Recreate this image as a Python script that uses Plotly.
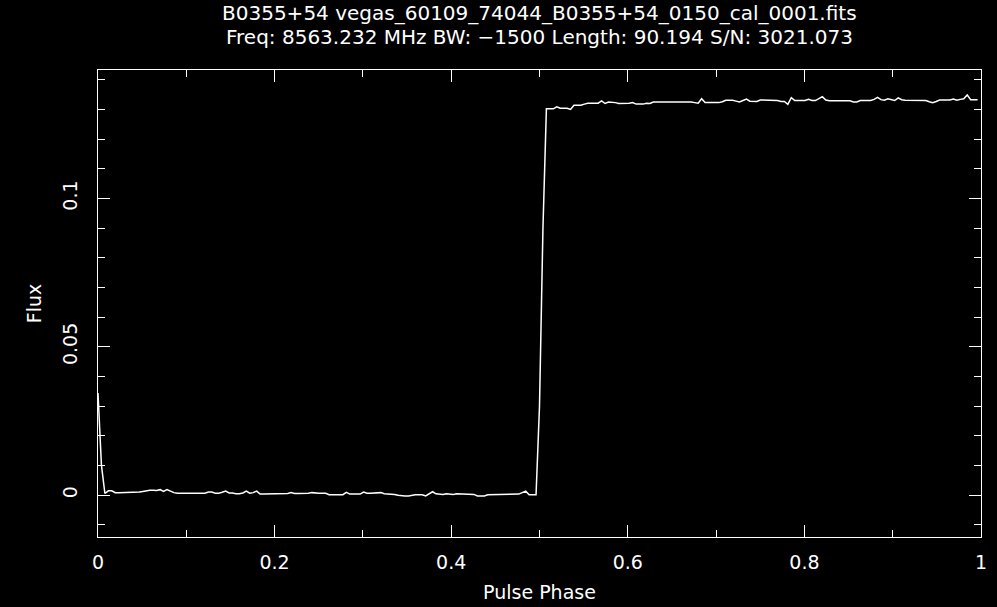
import numpy as np
import plotly.graph_objects as go

# ---- data ----
n_bins = 256
phase = np.arange(n_bins) / n_bins  # pulse phase of each bin

# flux values in units of 1e-4
flux_1e4 = [
    344, 100, 5, 14, 14, 8, 8, 8, 8, 8, 8, 10, 10, 12, 15, 16,
    16, 15, 18, 12, 18, 12, 8, 6, 6, 6, 6, 6, 4, 6, 6, 6,
    10, 10, 6, 6, 9, 13, 7, 7, 4, 4, 7, 13, 6, 8, 13, 3,
    3, 3, 3, 3, 3, 4, 5, 5, 8, 5, 5, 5, 5, 6, 8, 6,
    6, 6, 6, 1, 1, 1, 1, 1, 9, 3, 3, 3, 3, 10, 6, 6,
    6, 8, 8, 4, 4, 4, 2, -1, -3, -3, -3, 0, 1, 1, 1, -3,
    3, 11, 4, 2, 2, 4, 2, 2, 4, 4, 2, 2, 2, 2, -3, -3,
    -3, 1, 1, 1, 1, 3, 3, 3, 3, 3, 3, 8, 13, 1, 1, 1,
    300, 900, 1302, 1302, 1302, 1309, 1304, 1304, 1304, 1300, 1314, 1314, 1314, 1318, 1321, 1321,
    1321, 1321, 1329, 1320, 1325, 1325, 1323, 1320, 1320, 1320, 1321, 1323, 1318, 1318, 1318, 1321,
    1320, 1325, 1325, 1327, 1327, 1327, 1327, 1327, 1327, 1327, 1325, 1325, 1325, 1323, 1321, 1336,
    1323, 1323, 1323, 1323, 1323, 1326, 1331, 1331, 1331, 1328, 1325, 1330, 1335, 1328, 1327, 1327,
    1332, 1332, 1330, 1330, 1330, 1330, 1327, 1327, 1317, 1340, 1330, 1330, 1330, 1330, 1334, 1330,
    1330, 1336, 1343, 1332, 1329, 1329, 1330, 1329, 1329, 1328, 1329, 1325, 1325, 1330, 1330, 1330,
    1330, 1334, 1341, 1333, 1331, 1336, 1333, 1330, 1339, 1333, 1331, 1331, 1330, 1330, 1330, 1330,
    1330, 1326, 1323, 1327, 1332, 1332, 1332, 1332, 1335, 1331, 1334, 1336, 1349, 1333, 1333, 1333,
]
flux = np.array(flux_1e4) * 1e-4

x_tickvals = [0, 0.2, 0.4, 0.6, 0.8, 1.0]
x_ticktext = ["0", "0.2", "0.4", "0.6", "0.8", "1"]
y_tickvals = [0, 0.05, 0.1]
y_ticktext = ["0", "0.05", "0.1"]

title_line1 = "B0355+54 vegas_60109_74044_B0355+54_0150_cal_0001.fits"
title_line2 = "Freq: 8563.232 MHz BW: \u22121500 Length: 90.194 S/N: 3021.073"

FONT = "DejaVu Sans"
FS = 19

fig = go.Figure()
fig.add_trace(go.Scatter(
    x=phase, y=flux, mode="lines",
    line=dict(color="#ffffff", width=1.5),
    showlegend=False, hoverinfo="skip",
))

plot_h = 607 - 70 - 70

def ypix(yc):
    return 1 + (70 - yc) / plot_h

fig.add_annotation(text=title_line1, xref="paper", yref="paper", x=0.5, y=ypix(13),
                   xanchor="center", yanchor="middle", showarrow=False,
                   font=dict(family=FONT, size=20, color="white"))
fig.add_annotation(text=title_line2, xref="paper", yref="paper", x=0.5, y=ypix(37),
                   xanchor="center", yanchor="middle", showarrow=False,
                   font=dict(family=FONT, size=20, color="white"))

axis_common = dict(
    showline=True, linecolor="white", linewidth=1.2, mirror="ticks",
    ticks="inside", tickcolor="white", tickwidth=1.2, ticklen=12,
    showgrid=False, zeroline=False,
    tickfont=dict(family=FONT, size=FS, color="white"),
)

fig.update_xaxes(
    range=[0, 1], tickvals=x_tickvals, ticktext=x_ticktext,
    minor=dict(tickvals=[0.1, 0.3, 0.5, 0.7, 0.9], ticks="inside", ticklen=7,
               tickcolor="white", tickwidth=1.2),
    title=dict(text="Pulse Phase", font=dict(family=FONT, size=FS, color="white"), standoff=13),
    ticklabelstandoff=8,
    **axis_common,
)
fig.update_yaxes(
    range=[-0.01416, 0.1433], tickvals=y_tickvals, ticktext=y_ticktext, tickangle=-90,
    minor=dict(dtick=0.01, tick0=0, ticks="inside", ticklen=7,
               tickcolor="white", tickwidth=1.2),
    title=dict(text="Flux", font=dict(family=FONT, size=FS, color="white"), standoff=12),
    ticklabelstandoff=12,
    **axis_common,
)

fig.update_layout(
    width=997, height=607,
    margin=dict(l=98, r=16, t=70, b=70, autoexpand=False),
    paper_bgcolor="black", plot_bgcolor="black",
    font=dict(family=FONT, size=FS, color="white"),
)

fig.write_html("out.html")
